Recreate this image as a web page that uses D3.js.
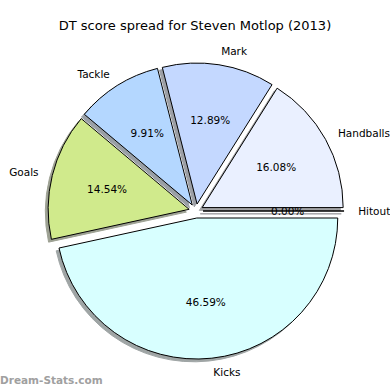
<!DOCTYPE html>
<html>
<head>
<meta charset="utf-8">
<script src="https://cdn.jsdelivr.net/npm/d3@7"></script>
<style>
  body { margin: 0; background: #fff; }
  text { font-family: "DejaVu Sans", sans-serif; }
</style>
</head>
<body>
<svg id="chart"></svg>
<script>
// values (percent of DT score)
const categories = ["Hitout", "Handballs", "Mark", "Tackle", "Goals", "Kicks"];
const shares = [0.00, 16.08, 12.89, 9.91, 14.54, 46.59];
const colors = ["#f0f0ff", "#eaf0ff", "#c4d8ff", "#b4d7ff", "#d0ea8c", "#d8ffff"];

const width = 390, height = 390;
const svg = d3.select("#chart").attr("width", width).attr("height", height);

const cx = 196, cy = 211, r = 141;
const explode = 0.05 * r;

// matplotlib style: start at 3 o'clock, go counter-clockwise
const pie = d3.pie().sort(null)
    .startAngle(Math.PI / 2)
    .endAngle(Math.PI / 2 - 2 * Math.PI);
const arc = d3.arc().innerRadius(0).outerRadius(r);

const slices = pie(shares).map((d, i) => {
    const mid = (d.startAngle + d.endAngle) / 2;
    return Object.assign(d, {
        i: i,
        dx: Math.sin(mid),
        dy: -Math.cos(mid)
    });
});

const g = svg.append("g").attr("transform", `translate(${cx},${cy})`);

slices.forEach(d => {
    const ox = d.dx * explode, oy = d.dy * explode;
    const c = d3.rgb(colors[d.i]);
    const shade = d3.rgb(c.r * 0.3, c.g * 0.3, c.b * 0.3);
    // shadow
    g.append("path")
        .attr("d", arc(d))
        .attr("transform", `translate(${ox - 2.8},${oy + 2.8})`)
        .attr("fill", shade)
        .attr("stroke", shade)
        .attr("stroke-width", 1)
        .attr("opacity", 0.5);
});

slices.forEach(d => {
    const ox = d.dx * explode, oy = d.dy * explode;
    g.append("path")
        .attr("d", arc(d))
        .attr("transform", `translate(${ox},${oy})`)
        .attr("fill", colors[d.i])
        .attr("stroke", "#000")
        .attr("stroke-width", 1);
});

// category labels
g.selectAll(".lbl")
    .data(slices)
    .enter().append("text")
    .attr("class", "lbl")
    .attr("x", d => d.dx * (explode + 1.1 * r))
    .attr("y", d => d.dy * (explode + 1.1 * r))
    .attr("text-anchor", d => d.dx > 0 ? "start" : "end")
    .attr("dominant-baseline", "central")
    .attr("font-size", 10.5)
    .attr("fill", "#000")
    .text(d => categories[d.i]);

// percent labels
g.selectAll(".pct")
    .data(slices)
    .enter().append("text")
    .attr("class", "pct")
    .attr("x", d => d.dx * (explode + 0.6 * r))
    .attr("y", d => d.dy * (explode + 0.6 * r))
    .attr("text-anchor", "middle")
    .attr("dominant-baseline", "central")
    .attr("font-size", 10.5)
    .attr("fill", "#000")
    .text(d => d.data.toFixed(2) + "%");

svg.append("text")
    .attr("x", 195)
    .attr("y", 30)
    .attr("text-anchor", "middle")
    .attr("font-size", 13)
    .text("DT score spread for Steven Motlop (2013)");

svg.append("text")
    .attr("x", 0)
    .attr("y", 384)
    .attr("font-size", 10.5)
    .attr("font-weight", "bold")
    .attr("fill", "#a0a0a0")
    .text("Dream-Stats.com");
</script>
</body>
</html>
